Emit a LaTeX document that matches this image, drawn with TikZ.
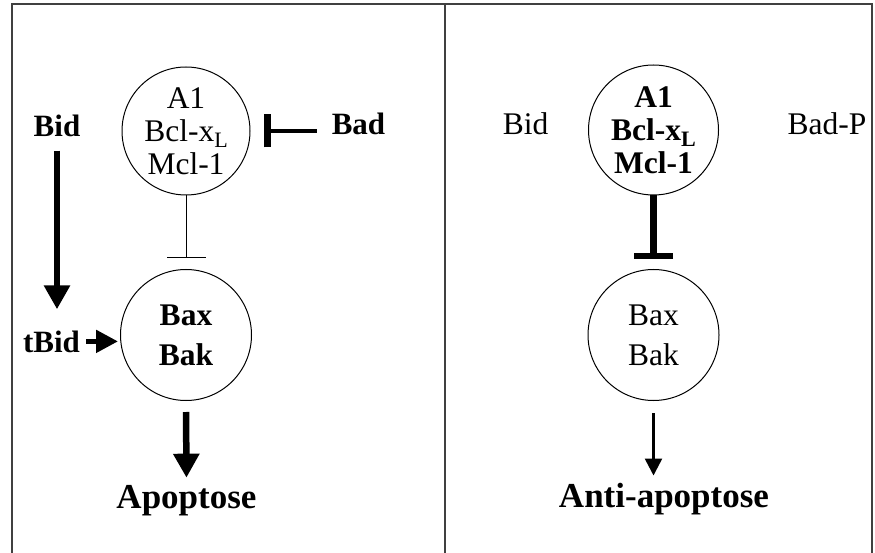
\documentclass[tikz,border=0pt]{standalone}
\usepackage{fontspec}
\setmainfont{Liberation Serif}
\usetikzlibrary{arrows.meta}
\newcommand{\subL}{\raisebox{-6pt}{\fontsize{22}{22}\selectfont L}}
\begin{document}
\begin{tikzpicture}[x=1pt,y=-1pt,
  frame/.style={line width=2pt, black!75},
  bubble/.style={circle, draw, line width=1pt, inner sep=0pt, align=center},
  lbl/.style={inner sep=0pt, anchor=base, font=\fontsize{31.5}{36}\selectfont},
  blbl/.style={lbl, font=\fontsize{31}{36}\selectfont\bfseries},
  biglbl/.style={inner sep=0pt, anchor=base, font=\fontsize{35}{40}\selectfont\bfseries},
  fatarrow/.style={line width=6.5pt, -{Triangle[length=24pt,width=25pt]}},
  thinarrow/.style={line width=2.5pt, -{Triangle[length=17pt,width=17pt]}},
  thininhib/.style={line width=1pt, -{Bar[width=39pt,line width=1pt]}},
  fatinhib/.style={line width=6.5pt, -{Bar[width=39pt,line width=5.5pt]}},
  badinhib/.style={line width=4.5pt, -{Bar[width=33pt,line width=7pt]}}
]
\useasboundingbox (0,0) rectangle (875,553);
% frame
\draw[frame] (12,553) -- (12,4) -- (872,4) -- (872,553);
\draw[frame] (445,4) -- (445,553);

% ---------- left panel ----------
\node[bubble, minimum size=128pt, font=\fontsize{31.5}{33}\selectfont] (a1L) at (186,131)
  {A1\\Bcl-x\subL\\Mcl-1};
\node[bubble, minimum size=131pt, font=\fontsize{31.5}{40}\selectfont\bfseries] (baxL) at (186,335)
  {Bax\\Bak};
\node[blbl] (bidL) at (57,137) {Bid};
\node[blbl] (badL) at (358.5,135) {Bad};
\node[blbl] (tbidL) at (51.5,352) {tBid};
\node[biglbl] (apoL) at (186.5,508) {Apoptose};

\draw[thininhib, shorten >=11pt] (a1L.south) -- (baxL.north);
\draw[badinhib, shorten <=15pt, shorten >=13pt] (badL.west |- a1L.east) -- (a1L.east);
\draw[fatarrow, line width=6pt, shorten <=13pt, shorten >=21pt] (bidL.south) -- (bidL.south |- tbidL.north);
\draw[line width=5pt, -{Triangle[length=22pt,width=22pt]}, shorten <=6pt, shorten >=2pt]
  (tbidL.east) -- (tbidL.east -| baxL.west);
\draw[fatarrow, shorten <=11pt, shorten >=7pt] (baxL.south) -- (apoL.north);

% ---------- right panel ----------
\node[bubble, minimum size=130pt, font=\fontsize{31.5}{33}\selectfont\bfseries] (a1R) at (653.5,130)
  {A1\\Bcl-x\subL\\Mcl-1};
\node[bubble, minimum size=131pt, font=\fontsize{31.5}{40}\selectfont] (baxR) at (653.5,335)
  {Bax\\Bak};
\node[lbl] (bidR) at (525.5,135) {Bid};
\node[lbl] (badpR) at (827,135) {Bad-P};
\node[biglbl] (antiR) at (664,507) {Anti-apoptose};

\draw[fatinhib, shorten >=10pt] (a1R.south) -- (baxR.north);
\draw[thinarrow, shorten <=12pt, shorten >=7pt] (baxR.south) -- (baxR.south |- antiR.north);
\end{tikzpicture}
\end{document}
